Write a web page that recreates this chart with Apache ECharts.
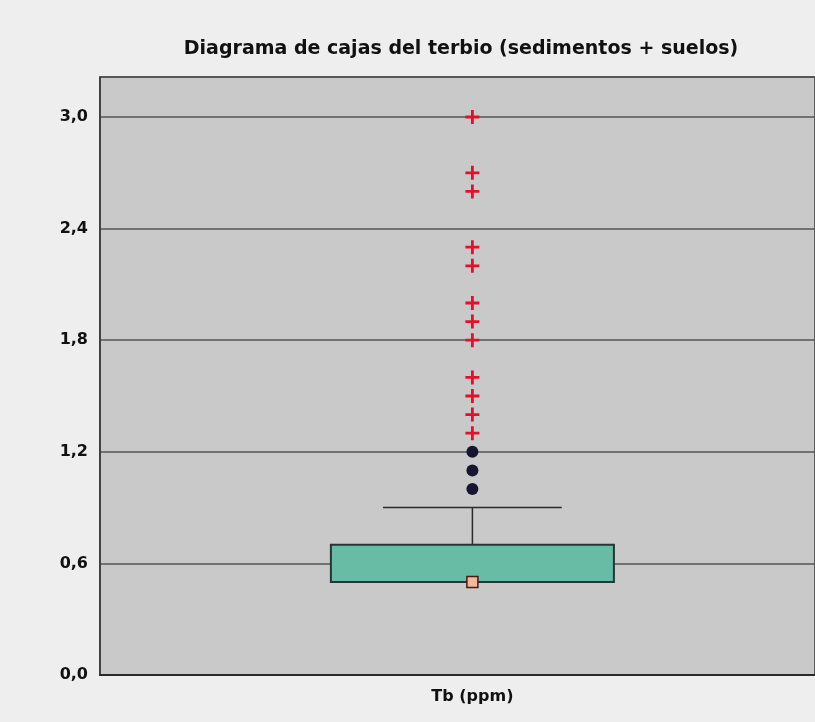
<!DOCTYPE html>
<html>
<head>
<meta charset="utf-8">
<script src="https://cdn.jsdelivr.net/npm/echarts@6/dist/echarts.min.js"></script>
<style>
  html, body { margin: 0; padding: 0; background: #eeeeee; }
  #chart { width: 815px; height: 722px; }
</style>
</head>
<body>
<div id="chart"></div>
<script>
// Terbium (Tb, ppm) distribution in sediments + soils
const categories = ['Tb (ppm)'];
// lower whisker, Q1, median, Q3, upper whisker
const boxStats = [0.5, 0.5, 0.5, 0.7, 0.9];
const meanValues = [0.5];
// values beyond the whisker (moderate outliers, drawn as dots)
const moderateOutliers = [1.0, 1.1, 1.2];
// extreme outliers, drawn as red crosses
const extremeOutliers = [1.3, 1.4, 1.5, 1.6, 1.8, 1.9, 2.0, 2.2, 2.3, 2.6, 2.7, 3.0];
const yTickStep = 0.6;
const yMax = 3.215;
// the plot frame runs past the right edge of the page, so the x range
// extends beyond the visible part on that side
const xMin = -0.5;
const xMax = 0.46;

const FONT = '"DejaVu Sans", Arial, sans-serif';
const plusPath = 'path://M4,0H6V4H10V6H6V10H4V6H0V4H4Z';

const chart = echarts.init(document.getElementById('chart'), null, { renderer: 'canvas' });

function renderBox(params, api) {
  const pos = api.value(0);
  const lo = api.value(1), q1 = api.value(2), med = api.value(3), q3 = api.value(4), hi = api.value(5);
  const band = api.size([1, 0])[0];
  const boxHalf = band * 0.19;
  const capHalf = band * 0.12;
  const pQ1 = api.coord([pos, q1]);
  const pQ3 = api.coord([pos, q3]);
  const pMed = api.coord([pos, med]);
  const pHi = api.coord([pos, hi]);
  const pLo = api.coord([pos, lo]);
  const cx = pQ1[0];
  const lineStyle = { stroke: '#2b2b2b', lineWidth: 1.5, fill: null };
  const children = [];
  // upper whisker stem and cap
  children.push({ type: 'line', shape: { x1: cx, y1: pQ3[1], x2: cx, y2: pHi[1] }, style: lineStyle });
  children.push({ type: 'line', shape: { x1: cx - capHalf, y1: pHi[1], x2: cx + capHalf, y2: pHi[1] }, style: lineStyle });
  if (lo < q1) {
    children.push({ type: 'line', shape: { x1: cx, y1: pQ1[1], x2: cx, y2: pLo[1] }, style: lineStyle });
    children.push({ type: 'line', shape: { x1: cx - capHalf, y1: pLo[1], x2: cx + capHalf, y2: pLo[1] }, style: lineStyle });
  }
  // interquartile box
  children.push({
    type: 'rect',
    shape: { x: cx - boxHalf, y: pQ3[1], width: boxHalf * 2, height: pQ1[1] - pQ3[1] },
    style: { fill: '#68bca5', stroke: '#263632', lineWidth: 2 }
  });
  // median
  children.push({ type: 'line', shape: { x1: cx - boxHalf, y1: pMed[1], x2: cx + boxHalf, y2: pMed[1] }, style: { stroke: '#263632', lineWidth: 2 } });
  return { type: 'group', children: children };
}

const option = {
  backgroundColor: '#eeeeee',
  animation: false,
  title: {
    text: 'Diagrama de cajas del terbio (sedimentos + suelos)',
    left: 456,
    top: 35,
    textAlign: 'center',
    textStyle: { fontFamily: FONT, fontWeight: 'bold', fontSize: 19, color: '#111111' }
  },
  grid: {
    left: 100, right: 0, top: 77, bottom: 47,
    show: true,
    backgroundColor: '#c9c9c9',
    borderColor: '#3a3a3a',
    borderWidth: 1.5
  },
  xAxis: {
    type: 'value',
    min: xMin,
    max: xMax,
    interval: 0.5,
    axisTick: { show: false },
    axisLine: { show: true, onZero: false, lineStyle: { color: '#2a2a2a', width: 2 } },
    axisLabel: {
      margin: 14, showMinLabel: false, showMaxLabel: false,
      fontFamily: FONT, fontWeight: 'bold', fontSize: 16, color: '#111111',
      formatter: v => (Math.abs(v) < 1e-9 ? categories[0] : '')
    },
    splitLine: { show: false }
  },
  yAxis: {
    type: 'value',
    min: 0,
    max: yMax,
    interval: yTickStep,
    axisTick: { show: false },
    axisLine: { show: true, onZero: false, lineStyle: { color: '#3a3a3a', width: 1.5 } },
    axisLabel: {
      margin: 12,
      showMaxLabel: false,
      fontFamily: FONT, fontWeight: 'bold', fontSize: 16, color: '#111111',
      formatter: v => v.toFixed(1).replace('.', ',')
    },
    splitLine: { show: true, lineStyle: { color: '#555555', width: 1.5 } }
  },
  series: [
    {
      type: 'custom',
      renderItem: renderBox,
      data: [[0].concat(boxStats)],
      encode: { x: 0, y: [1, 2, 3, 4, 5] },
      z: 2
    },
    {
      type: 'scatter',
      data: meanValues.map(v => [0, v]),
      symbol: 'rect',
      symbolSize: 11,
      itemStyle: { color: '#f4b79c', borderColor: '#4a1a10', borderWidth: 1.5, opacity: 1 },
      z: 4
    },
    {
      type: 'scatter',
      data: moderateOutliers.map(v => [0, v]),
      symbol: 'circle',
      symbolSize: 12,
      itemStyle: { color: '#161633', opacity: 1 },
      z: 3
    },
    {
      type: 'scatter',
      data: extremeOutliers.map(v => [0, v]),
      symbol: plusPath,
      symbolSize: 14,
      itemStyle: { color: '#e3102c', opacity: 1 },
      z: 3
    }
  ]
};

chart.setOption(option);
</script>
</body>
</html>
